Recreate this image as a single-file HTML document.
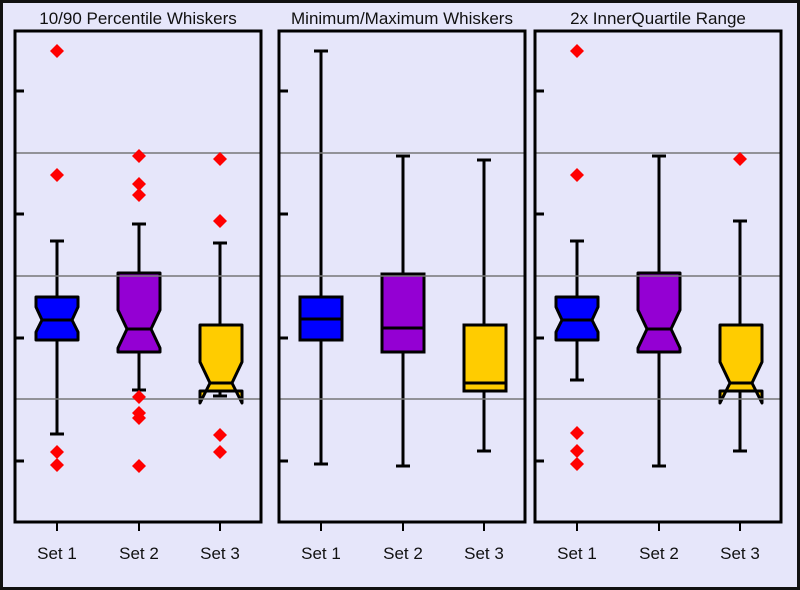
<!DOCTYPE html>
<html><head><meta charset="utf-8"><style>
html,body{margin:0;padding:0;background:#e6e6fa;}
svg{display:block;}
text{font-family:"Liberation Sans",sans-serif;font-size:17px;fill:#111;}
</style></head><body>
<svg width="800" height="590" viewBox="0 0 800 590" xmlns="http://www.w3.org/2000/svg">
<rect x="1.5" y="1.5" width="797" height="587" fill="#e6e6fa" stroke="#111" stroke-width="3"/>
<defs>
<g id="frame">
  <line x1="0" y1="153" x2="246" y2="153" stroke="#777" stroke-width="1.5"/>
  <line x1="0" y1="276" x2="246" y2="276" stroke="#777" stroke-width="1.5"/>
  <line x1="0" y1="399" x2="246" y2="399" stroke="#777" stroke-width="1.5"/>
  <g stroke="#000" stroke-width="3">
    <line x1="0" y1="91" x2="9" y2="91"/><line x1="0" y1="214" x2="9" y2="214"/>
    <line x1="0" y1="338" x2="9" y2="338"/><line x1="0" y1="461" x2="9" y2="461"/>
    <line x1="42" y1="522" x2="42" y2="531" stroke-width="2"/>
    <line x1="124" y1="522" x2="124" y2="531" stroke-width="2"/>
    <line x1="205" y1="522" x2="205" y2="531" stroke-width="2"/>
  </g>
  <rect x="0" y="31" width="246" height="491" fill="none" stroke="#000" stroke-width="3"/>
  <text x="42" y="559" text-anchor="middle">Set 1</text>
  <text x="124" y="559" text-anchor="middle">Set 2</text>
  <text x="205" y="559" text-anchor="middle">Set 3</text>
</g>
<polygon id="d" points="0,-7 7,0 0,7 -7,0" fill="#f00"/>
</defs>

<!-- Panel 1 -->
<text x="138" y="24" text-anchor="middle">10/90 Percentile Whiskers</text>
<g transform="translate(15,0)">
<g stroke="#000" stroke-width="3" fill="none">
<line x1="42" y1="241" x2="42" y2="434"/><line x1="35" y1="241" x2="49" y2="241"/><line x1="35" y1="434" x2="49" y2="434"/>
<line x1="124" y1="224" x2="124" y2="390"/><line x1="117" y1="224" x2="131" y2="224"/><line x1="117" y1="390" x2="131" y2="390"/>
<line x1="205" y1="243" x2="205" y2="396"/><line x1="198" y1="243" x2="212" y2="243"/><line x1="198" y1="396" x2="212" y2="396"/>
</g>
<polygon points="21,297 63,297 63,307 57,320 63,332 63,340 21,340 21,332 27,320 21,307" fill="#0000ff" stroke="#000" stroke-width="3" stroke-linejoin="round"/>
<line x1="27" y1="320" x2="57" y2="320" stroke="#000" stroke-width="3"/>
<polygon points="103,273 145,273 145,310 136,329 145,348 145,352 103,352 103,348 112,329 103,310" fill="#9400d3" stroke="#000" stroke-width="3" stroke-linejoin="round"/>
<line x1="112" y1="329" x2="136" y2="329" stroke="#000" stroke-width="3"/>
<polygon points="185,325 227,325 227,362 217,383 227,403 227,391 185,391 185,403 195,383 185,362" fill="#ffcc00" stroke="#000" stroke-width="3" stroke-linejoin="round"/>
<line x1="195" y1="383" x2="217" y2="383" stroke="#000" stroke-width="3"/>
<use href="#frame"/>
<use href="#d" x="42" y="51"/><use href="#d" x="42" y="175"/><use href="#d" x="42" y="452"/><use href="#d" x="42" y="465"/>
<use href="#d" x="124" y="156"/><use href="#d" x="124" y="184"/><use href="#d" x="124" y="195"/><use href="#d" x="124" y="397"/><use href="#d" x="124" y="413"/><use href="#d" x="124" y="418"/><use href="#d" x="124" y="466"/>
<use href="#d" x="205" y="159"/><use href="#d" x="205" y="221"/><use href="#d" x="205" y="435"/><use href="#d" x="205" y="452"/>
</g>

<!-- Panel 2 -->
<text x="402" y="24" text-anchor="middle">Minimum/Maximum Whiskers</text>
<g transform="translate(279,0)">
<g stroke="#000" stroke-width="3" fill="none">
<line x1="42" y1="51" x2="42" y2="464"/><line x1="35" y1="51" x2="49" y2="51"/><line x1="35" y1="464" x2="49" y2="464"/>
<line x1="124" y1="156" x2="124" y2="466"/><line x1="117" y1="156" x2="131" y2="156"/><line x1="117" y1="466" x2="131" y2="466"/>
<line x1="205" y1="160" x2="205" y2="451"/><line x1="198" y1="160" x2="212" y2="160"/><line x1="198" y1="451" x2="212" y2="451"/>
</g>
<rect x="21" y="297" width="42" height="43" fill="#0000ff" stroke="#000" stroke-width="3"/>
<line x1="21" y1="319" x2="63" y2="319" stroke="#000" stroke-width="3"/>
<rect x="103" y="274" width="42" height="78" fill="#9400d3" stroke="#000" stroke-width="3"/>
<line x1="103" y1="328" x2="145" y2="328" stroke="#000" stroke-width="3"/>
<rect x="185" y="325" width="42" height="66" fill="#ffcc00" stroke="#000" stroke-width="3"/>
<line x1="185" y1="383" x2="227" y2="383" stroke="#000" stroke-width="3"/>
<use href="#frame"/>
</g>

<!-- Panel 3 -->
<text x="658" y="24" text-anchor="middle">2x InnerQuartile Range</text>
<g transform="translate(535,0)">
<g stroke="#000" stroke-width="3" fill="none">
<line x1="42" y1="241" x2="42" y2="380"/><line x1="35" y1="241" x2="49" y2="241"/><line x1="35" y1="380" x2="49" y2="380"/>
<line x1="124" y1="156" x2="124" y2="466"/><line x1="117" y1="156" x2="131" y2="156"/><line x1="117" y1="466" x2="131" y2="466"/>
<line x1="205" y1="221" x2="205" y2="451"/><line x1="198" y1="221" x2="212" y2="221"/><line x1="198" y1="451" x2="212" y2="451"/>
</g>
<polygon points="21,297 63,297 63,307 57,320 63,332 63,340 21,340 21,332 27,320 21,307" fill="#0000ff" stroke="#000" stroke-width="3" stroke-linejoin="round"/>
<line x1="27" y1="320" x2="57" y2="320" stroke="#000" stroke-width="3"/>
<polygon points="103,273 145,273 145,310 136,329 145,348 145,352 103,352 103,348 112,329 103,310" fill="#9400d3" stroke="#000" stroke-width="3" stroke-linejoin="round"/>
<line x1="112" y1="329" x2="136" y2="329" stroke="#000" stroke-width="3"/>
<polygon points="185,325 227,325 227,362 217,383 227,403 227,391 185,391 185,403 195,383 185,362" fill="#ffcc00" stroke="#000" stroke-width="3" stroke-linejoin="round"/>
<line x1="195" y1="383" x2="217" y2="383" stroke="#000" stroke-width="3"/>
<use href="#frame"/>
<use href="#d" x="42" y="51"/><use href="#d" x="42" y="175"/><use href="#d" x="42" y="433"/><use href="#d" x="42" y="451"/><use href="#d" x="42" y="464"/>
<use href="#d" x="205" y="159"/>
</g>
</svg>
</body></html>
